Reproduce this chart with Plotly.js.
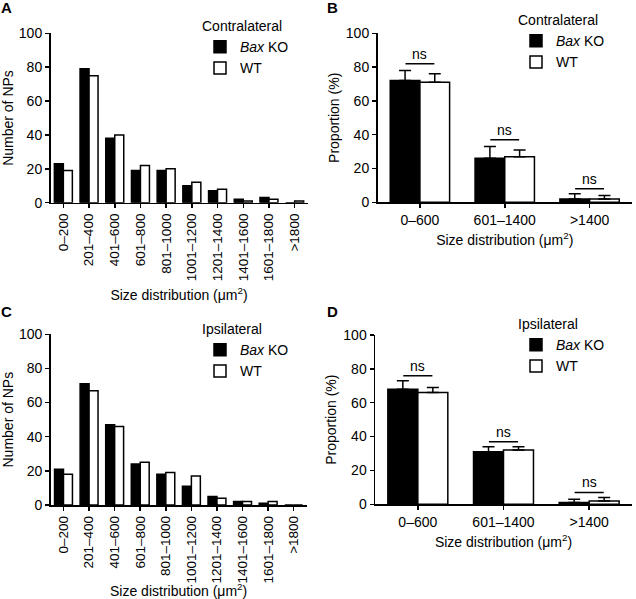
<!DOCTYPE html>
<html>
<head>
<meta charset="utf-8">
<script src="https://cdn.plot.ly/plotly-3.0.1.min.js"></script>
<style>html,body{margin:0;padding:0;background:#fff;}#chart{width:636px;height:599px;}</style>
</head>
<body>
<div id="chart"></div>
<script>
// ---- data ----
const sizeBins = ["0–200","201–400","401–600","601–800","801–1000","1001–1200","1201–1400","1401–1600","1601–1800",">1800"];
const groupBins = ["0–600","601–1400",">1400"];

const contraKO = [23, 79, 38, 19, 19, 10, 7, 2, 3, 0];
const contraWT = [19, 75, 40, 22, 20, 12, 8, 1, 2, 1];
const ipsiKO   = [21, 71, 47, 24, 18, 11, 5, 2, 1, 0];
const ipsiWT   = [18, 67, 46, 25, 19, 17, 4, 2, 2, 0];

const contraPropKO = [72, 26, 2];
const contraPropKOerr = [6, 7, 3];
const contraPropWT = [71, 27, 2];
const contraPropWTerr = [5, 4, 2];
const contraNsY = [82, 37, 8];

const ipsiPropKO = [68, 31, 1];
const ipsiPropKOerr = [5, 3, 2];
const ipsiPropWT = [66, 32, 2];
const ipsiPropWTerr = [3, 2, 2];
const ipsiNsY = [76, 37, 7];

const nameKO = "<i>Bax</i> KO";
const nameWT = "WT";
const xTitle = "Size distribution (μm<sup>2</sup>)";

// ---- build ----
const FONT = "Arial, 'Liberation Sans', sans-serif";
const FS = 14;
const barLine = {color: "black", width: 1.5};
const idx = groupBins.map((_, i) => i);
const half = 0.17; // half of a bar width with bargap 0.32

function countBars(ko, wt, xa, ya, lg) {
  return [
    {type: "bar", x: sizeBins, y: ko, name: nameKO, xaxis: xa, yaxis: ya, legend: lg,
     marker: {color: "black", line: barLine}},
    {type: "bar", x: sizeBins, y: wt, name: nameWT, xaxis: xa, yaxis: ya, legend: lg,
     marker: {color: "white", line: barLine}}
  ];
}
function propBars(ko, koErr, wt, wtErr, nsY, xa, ya, lg) {
  const zeros = ko.map(() => 0);
  const eb = (arr) => ({type: "data", array: arr, arrayminus: zeros, symmetric: false,
                        color: "black", thickness: 1.5, width: 6});
  const tr = [
    {type: "bar", x: idx, y: ko, name: nameKO, xaxis: xa, yaxis: ya, legend: lg,
     marker: {color: "black", line: barLine}, error_y: eb(koErr)},
    {type: "bar", x: idx, y: wt, name: nameWT, xaxis: xa, yaxis: ya, legend: lg,
     marker: {color: "white", line: barLine}, error_y: eb(wtErr)}
  ];
  nsY.forEach((h, i) => {
    tr.push({type: "scatter", mode: "lines", x: [i - half, i + half], y: [h, h],
             xaxis: xa, yaxis: ya, showlegend: false, hoverinfo: "skip",
             line: {color: "black", width: 1.5}});
  });
  return tr;
}

const data = [].concat(
  countBars(contraKO, contraWT, "x", "y", "legend"),
  propBars(contraPropKO, contraPropKOerr, contraPropWT, contraPropWTerr, contraNsY, "x2", "y2", "legend2"),
  countBars(ipsiKO, ipsiWT, "x3", "y3", "legend3"),
  propBars(ipsiPropKO, ipsiPropKOerr, ipsiPropWT, ipsiPropWTerr, ipsiNsY, "x4", "y4", "legend4")
);

const H = 599, W = 636;
function yax(title, domTop, domBot, anchor, standoff) {
  return {domain: [1 - domBot / H, 1 - domTop / H], anchor: anchor, range: [0, 100],
    dtick: 20, showgrid: false, zeroline: false, showline: true, linecolor: "black", linewidth: 1.5,
    ticks: "outside", ticklen: 4, tickwidth: 1.5, tickcolor: "black",
    tickfont: {size: FS, color: "black"},
    title: {text: title, font: {size: FS, color: "black"}, standoff: standoff}};
}
function xaxCount(l, r, anchor) {
  return {domain: [l / W, r / W], anchor: anchor, type: "category",
    showgrid: false, zeroline: false, showline: true, linecolor: "black", linewidth: 1.5,
    ticks: "outside", ticklen: 4, tickwidth: 1.5, tickcolor: "black", tickangle: -90,
    tickfont: {size: 13.5, color: "black"},
    title: {text: xTitle, font: {size: FS, color: "black"}, standoff: 10}};
}
function xaxProp(l, r, anchor) {
  return {domain: [l / W, r / W], anchor: anchor, range: [-0.5, 2.5],
    tickvals: idx, ticktext: groupBins,
    showgrid: false, zeroline: false, showline: true, linecolor: "black", linewidth: 1.5,
    ticks: "outside", ticklen: 4, tickwidth: 1.5, tickcolor: "black",
    tickfont: {size: FS, color: "black"},
    title: {text: xTitle, font: {size: FS, color: "black"}, standoff: 8}};
}
function legend(x, yTop, title) {
  return {x: x / W, y: 1 - yTop / H, xanchor: "left", yanchor: "top",
    bgcolor: "rgba(0,0,0,0)", borderwidth: 0, tracegroupgap: 0,
    font: {size: FS, color: "black"}, title: {text: title, font: {size: FS, color: "black"}}};
}

const annotations = [];
[["A", 7, 8], ["B", 332, 8], ["C", 7, 311], ["D", 332, 311]].forEach(([t, x, y]) => {
  annotations.push({text: "<b>" + t + "</b>", xref: "paper", yref: "paper", x: x / W, y: 1 - y / H,
    xanchor: "center", yanchor: "middle", showarrow: false, font: {size: 15, color: "black"}});
});
[["x2", "y2", contraNsY], ["x4", "y4", ipsiNsY]].forEach(([xa, ya, ns]) => {
  ns.forEach((h, i) => annotations.push({text: "ns", xref: xa, yref: ya, x: i, y: h,
    xanchor: "center", yanchor: "bottom", yshift: 0, showarrow: false, font: {size: FS, color: "black"}}));
});

const layout = {
  width: W, height: H, margin: {l: 0, r: 0, t: 0, b: 0},
  paper_bgcolor: "white", plot_bgcolor: "white",
  font: {family: FONT, size: FS, color: "black"},
  barmode: "group", bargap: 0.3, bargroupgap: 0,
  showlegend: true,
  xaxis: xaxCount(50.5, 307.5, "y"),
  yaxis: yax("Number of NPs", 33.3, 202.7, "x", 7),
  xaxis2: xaxProp(377.5, 632, "y2"),
  yaxis2: yax("Proportion (%)", 33.3, 202.3, "x2", 3),
  xaxis3: xaxCount(50.7, 306.5, "y3"),
  yaxis3: yax("Number of NPs", 334.3, 505, "x3", 7),
  xaxis4: xaxProp(375, 632, "y4"),
  yaxis4: yax("Proportion (%)", 335, 504.3, "x4", 3),
  legend: legend(200, 13, "Contralateral"),
  legend2: legend(516, 7, "Contralateral"),
  legend3: legend(200, 316, "Ipsilateral"),
  legend4: legend(516, 311, "Ipsilateral"),
  annotations: annotations
};

Plotly.newPlot("chart", data, layout, {displayModeBar: false, staticPlot: true});
</script>
</body>
</html>
